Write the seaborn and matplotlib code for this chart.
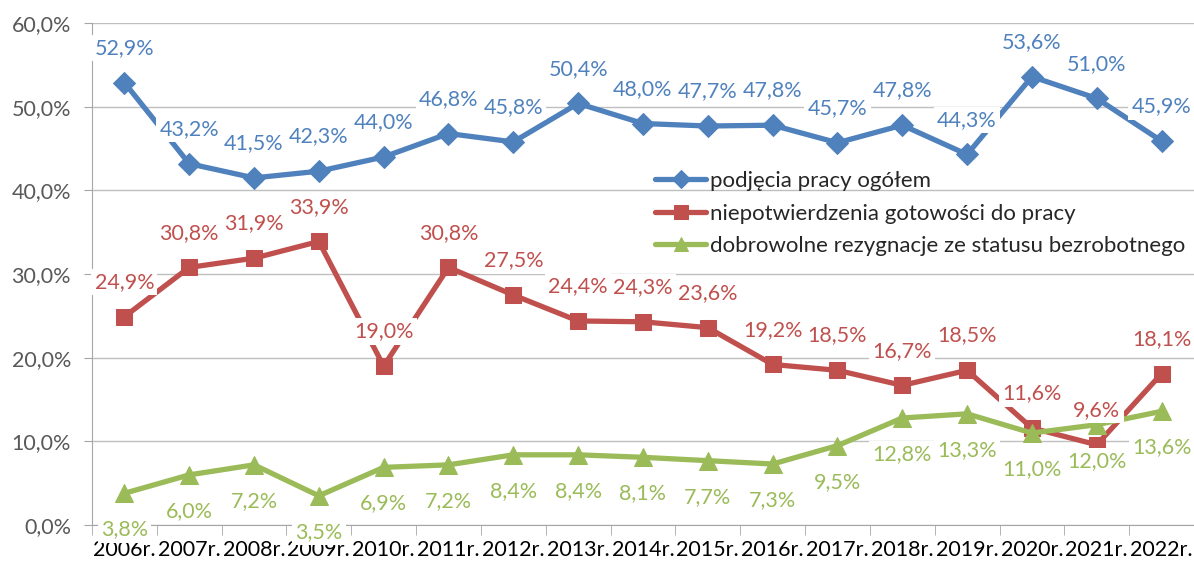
import pandas as pd
import matplotlib.pyplot as plt
import seaborn as sns

# data
years = ["2006r.", "2007r.", "2008r.", "2009r.", "2010r.", "2011r.", "2012r.", "2013r.", "2014r.",
         "2015r.", "2016r.", "2017r.", "2018r.", "2019r.", "2020r.", "2021r.", "2022r."]
podjecia = [52.9, 43.2, 41.5, 42.3, 44.0, 46.8, 45.8, 50.4, 48.0, 47.7, 47.8, 45.7, 47.8, 44.3, 53.6, 51.0, 45.9]
niepotw = [24.9, 30.8, 31.9, 33.9, 19.0, 30.8, 27.5, 24.4, 24.3, 23.6, 19.2, 18.5, 16.7, 18.5, 11.6, 9.6, 18.1]
dobrowolne = [3.8, 6.0, 7.2, 3.5, 6.9, 7.2, 8.4, 8.4, 8.1, 7.7, 7.3, 9.5, 12.8, 13.3, 11.0, 12.0, 13.6]
series_names = ["podjęcia pracy ogółem",
                "niepotwierdzenia gotowości do pracy",
                "dobrowolne rezygnacje ze statusu bezrobotnego"]

sns.set_style("white")
plt.rcParams['font.family'] = ['Lato', 'DejaVu Sans']

fig = plt.figure(figsize=(11.94, 5.64), dpi=100)
ax = fig.add_axes([0.077, 0.069, 0.923, 0.890])

styles = [
    (podjecia, "#4F81BD", "D", 11, 25),
    (niepotw, "#C0504D", "s", 12, 25),
    (dobrowolne, "#9BBB59", "^", 13, -26),
]
idx = list(range(len(years)))
for (vals, col, mk, ms, off), name in zip(styles, series_names):
    df = pd.DataFrame({"x": idx, "y": vals})
    sns.lineplot(data=df, x="x", y="y", ax=ax, color=col, marker=mk, markersize=ms,
                 markeredgecolor=col, linewidth=3.8, label=name, zorder=2)
    for i, v in zip(idx, vals):
        ax.annotate(f"{v:.1f}%".replace(".", ","), (i, v), xytext=(0, off),
                    textcoords="offset points", ha="center", va="center",
                    fontsize=15.5, color=col, zorder=4,
                    bbox=dict(boxstyle="square,pad=0.15", fc="white", ec="none"))

ax.set_xlim(-0.5, len(years) - 0.5)
ax.set_ylim(0, 60)
ax.set_xticks(idx)
ax.set_xticklabels(years, fontsize=15.5, color="black")
ax.set_xticks([i - 0.5 for i in range(len(years) + 1)], minor=True)
ax.tick_params(axis="x", which="major", length=0, pad=11)
ax.tick_params(axis="x", which="minor", length=7, color="#A6A6A6", direction="out", bottom=True)
ax.set_yticks(range(0, 61, 10))
ax.set_yticklabels([f"{v},0%" for v in range(0, 61, 10)], fontsize=15.5, color="#595959")
ax.tick_params(axis="y", length=6, color="#A6A6A6", direction="out", left=True, pad=9)
ax.yaxis.grid(True, color="#BFBFBF", linewidth=1)
ax.set_axisbelow(True)
ax.set_xlabel("")
ax.set_ylabel("")
for s in ["top", "right"]:
    ax.spines[s].set_visible(False)
for s in ["left", "bottom"]:
    ax.spines[s].set_color("#A6A6A6")

ax.legend(loc="upper left", bbox_to_anchor=(0.511, 0.705), frameon=False, fontsize=16,
          handlelength=2.3, handletextpad=0.15, labelspacing=0.56, borderaxespad=0,
          borderpad=0, markerscale=0.8)

fig.savefig("out.png", dpi=100)
